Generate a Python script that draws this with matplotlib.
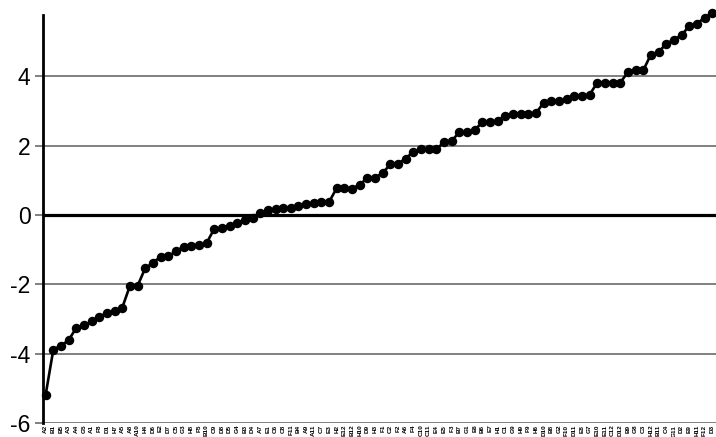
import matplotlib
matplotlib.use("Agg")
import matplotlib.pyplot as plt
import numpy as np

plt.rcParams['font.family'] = ['Liberation Sans', 'DejaVu Sans']

# Sample (well) identifiers along the x axis, ordered by score
wells = [
    "A2", "B1", "B5", "A3", "A4", "G5", "A1", "F8", "D1", "H7",
    "A5", "A8", "A10", "H4", "D6", "E2", "D7", "C5", "G3", "H8",
    "F5", "B10", "C9", "D8", "D5", "G4", "B3", "D4", "A7", "E1",
    "C6", "C8", "F11", "B4", "A9", "A11", "C7", "E3", "H2", "E12",
    "B12", "H10", "D9", "H3", "F1", "C2", "F2", "A6", "F4", "C10",
    "C11", "E4", "E5", "F3", "B7", "G1", "E6", "B6", "E7", "H1",
    "C1", "G9", "H9", "F9", "H6", "D10", "B8", "G2", "F10", "D11",
    "E8", "G7", "E10", "E11", "C12", "D12", "B9", "G8", "C3", "H12",
    "B11", "C4", "G11", "D2", "E9", "H11", "F12", "D3",
]

# Scores, sorted ascending
scores = [
    -5.18, -3.88, -3.77, -3.61, -3.25, -3.18, -3.07, -2.93, -2.83, -2.78,
    -2.67, -2.04, -2.04, -1.53, -1.38, -1.20, -1.19, -1.05, -0.91, -0.88,
    -0.86, -0.81, -0.40, -0.37, -0.32, -0.22, -0.15, -0.08, 0.06, 0.14,
    0.17, 0.20, 0.21, 0.26, 0.31, 0.35, 0.37, 0.38, 0.78, 0.78,
    0.76, 0.88, 1.07, 1.07, 1.22, 1.46, 1.48, 1.63, 1.83, 1.89,
    1.91, 1.90, 2.10, 2.14, 2.39, 2.39, 2.45, 2.68, 2.68, 2.72,
    2.87, 2.92, 2.92, 2.92, 2.94, 3.24, 3.28, 3.29, 3.34, 3.42,
    3.44, 3.47, 3.82, 3.82, 3.82, 3.82, 4.12, 4.17, 4.17, 4.63,
    4.70, 4.94, 5.06, 5.19, 5.45, 5.52, 5.69, 5.83,
]

y_ticks = [-6, -4, -2, 0, 2, 4]

W, H = 716, 437
fig = plt.figure(figsize=(W / 100, H / 100), dpi=100)
ax = fig.add_axes([43 / W, 1 - 423 / H, 1 - 43 / W, (423 - 15) / H])

x = np.arange(1, len(scores) + 1)

grid_col = "#5e5e5e"

# Horizontal reference lines
for t in y_ticks:
    if t == 0:
        ax.axhline(t, color="black", lw=2.3, zorder=2)
    else:
        ax.axhline(t, color=grid_col, lw=1.1, zorder=1)

ax.plot(x, scores, color="black", lw=1.9, marker="o", markersize=5.8,
        markerfacecolor="black", markeredgecolor="black", zorder=3,
        clip_on=False)

ax.set_xlim(0.65, len(scores) + 0.5)
ax.set_ylim(-6.0, 5.77)

ax.set_yticks(y_ticks)
ax.set_yticklabels([str(t) for t in y_ticks], fontsize=16.5)
ax.tick_params(axis="y", direction="out", length=6, width=1.1,
               color=grid_col, pad=3)

ax.set_xticks(x)
ax.set_xticklabels(wells, rotation=90, fontsize=4.6, fontweight="bold")
ax.tick_params(axis="x", length=0, pad=1.2)

for side in ("top", "right", "bottom"):
    ax.spines[side].set_visible(False)
ax.spines["left"].set_color("black")
ax.spines["left"].set_linewidth(2.0)
ax.spines["left"].set_zorder(4)

fig.savefig("out.png", dpi=100)
